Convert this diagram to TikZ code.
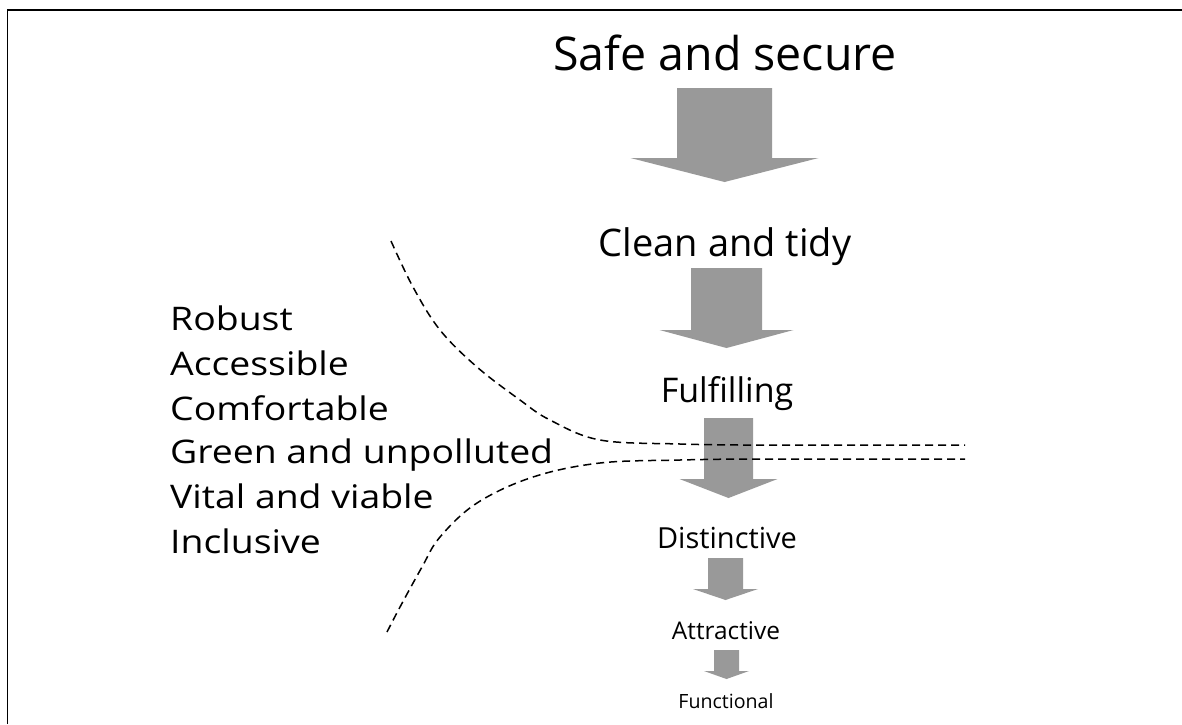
\documentclass[tikz,border=0pt]{standalone}
\usepackage{fontspec}
\setmainfont{Open Sans}
\newfontfamily\widesans[FakeStretch=1.15]{Open Sans}
\begin{document}
\begin{tikzpicture}[x=1pt,y=-1pt,
  lbl/.style={inner sep=0pt,anchor=base,font=#1},
  lbl/.default={},
  side/.style={inner sep=0pt,anchor=base west,font=\widesans\fontsize{32.5}{32.5}\selectfont},
  blockarrow/.style={fill=black!40,draw=none},
  guide/.style={draw=black,line width=1.5pt,dash pattern=on 8pt off 5pt},
  frame/.style={draw=black,line width=1.6pt}]
\useasboundingbox (0,0) rectangle (1182,724);
\fill[white] (0,0) rectangle (1182,724);
% frame edge
\draw[frame] (7.5,724) -- (7.5,10) -- (1182,10);
% arrows: cx, top, half shaft, base, half head, tip
\newcommand{\barrow}[6]{%
  \fill[blockarrow] (#1-#3,#2) -- (#1+#3,#2) -- (#1+#3,#4) -- (#1+#5,#4)
    -- (#1,#6) -- (#1-#5,#4) -- (#1-#3,#4) -- cycle;}
% right-hand sequence
\node[lbl=\fontsize{46.5}{46.5}\selectfont] (s1) at (725,70) {Safe and secure};
\node[lbl=\fontsize{38}{38}\selectfont] (s2) at (725,256) {Clean and tidy};
\node[lbl=\fontsize{34}{34}\selectfont] (s3) at (727,402) {Fulfilling};
\node[lbl=\fontsize{29}{29}\selectfont] (s4) at (727,548) {Distinctive};
\node[lbl=\fontsize{24.4}{24.4}\selectfont] (s5) at (726,639) {Attractive};
\node[lbl=\fontsize{19.6}{19.6}\selectfont] (s6) at (726,708) {Functional};
\barrow{724.5}{88}{47.5}{158}{94}{182}
\barrow{726.5}{268}{35.5}{330}{67}{348}
\barrow{728.5}{418}{24.5}{479}{49}{498}
\barrow{725.5}{558}{17.5}{589}{32.5}{600}
\barrow{726.5}{650}{12.5}{671}{22.5}{679}
% left list
\node[side] (t1) at (170,330) {Robust};
\node[side] (t2) at (170,375) {Accessible};
\node[side] (t3) at (170,420) {Comfortable};
\node[side] (t4) at (170,463) {Green and unpolluted};
\node[side] (t5) at (170,508) {Vital and viable};
\node[side] (t6) at (170,553) {Inclusive};
% funnel guides
\draw[guide] plot[smooth,tension=0.6] coordinates {(391,241) (413,287) (440,330) (477,367) (520,400) (550,420) (600,440) (680,444) (740,445)} -- (965,445);
\draw[guide] plot[smooth,tension=0.6] coordinates {(387,632) (400,607) (422,567) (440,537) (477,503) (533,477) (600,463) (680,460) (740,459)} -- (965,459);
\end{tikzpicture}
\end{document}
